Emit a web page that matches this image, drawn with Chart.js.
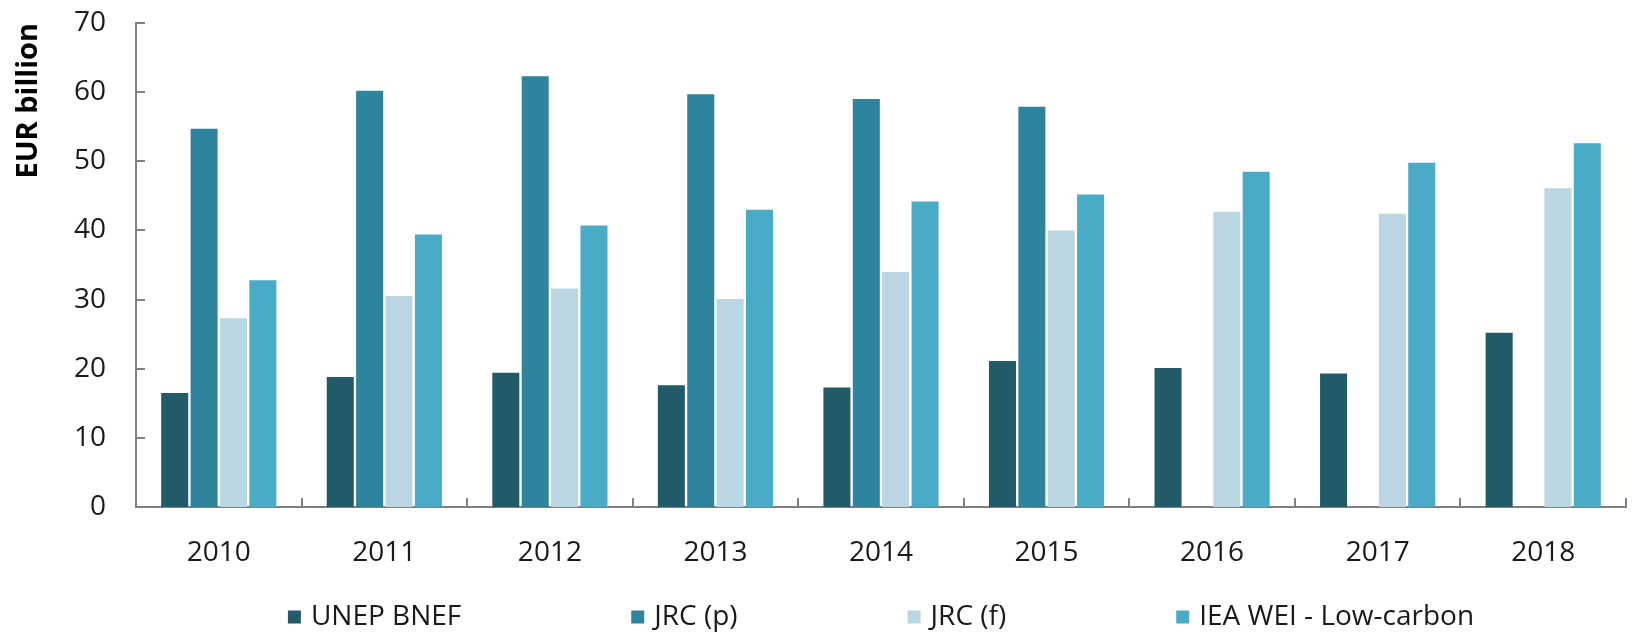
<!DOCTYPE html>
<html>
<head>
<meta charset="utf-8">
<script src="https://cdn.jsdelivr.net/npm/chart.js@4.4.1/dist/chart.umd.min.js"></script>
<style>
html,body{margin:0;padding:0;background:#ffffff;}
#wrap{width:1637px;height:637px;position:relative;}
</style>
</head>
<body>
<div id="wrap"><canvas id="c"></canvas></div>
<script>
// ---- data ----
const categories = ['2010','2011','2012','2013','2014','2015','2016','2017','2018'];
const unepBnef = [16.5, 18.8, 19.4, 17.6, 17.3, 21.1, 20.1, 19.3, 25.2];
const jrcP     = [54.7, 60.2, 62.3, 59.7, 59.0, 57.9, null, null, null];
const jrcF     = [27.3, 30.5, 31.6, 30.1, 34.0, 40.0, 42.7, 42.4, 46.1];
const ieaWei   = [32.8, 39.4, 40.7, 43.0, 44.2, 45.2, 48.5, 49.8, 52.6];
const seriesNames = ['UNEP BNEF', 'JRC (p)', 'JRC (f)', 'IEA WEI - Low-carbon'];
const seriesColors = ['#215B69', '#2E849D', '#B9D6E2', '#4AABC6'];
const yMin = 0, yMax = 70, yStep = 10;
const yTitle = 'EUR billion';

const AXIS_COLOR = '#7f7f7f';
const TEXT_COLOR = '#1a1a1a';
const FONT = '"Open Sans", "Noto Sans", sans-serif';

const inwardTicks = {
  id: 'inwardTicks',
  afterDatasetsDraw(chart) {
    const {ctx, chartArea, scales} = chart;
    const x = scales.x, y = scales.y;
    ctx.save();
    ctx.strokeStyle = AXIS_COLOR;
    ctx.lineWidth = 2;
    y.ticks.forEach(t => {
      const py = Math.round(y.getPixelForValue(t.value));
      ctx.beginPath();
      ctx.moveTo(chartArea.left, py);
      ctx.lineTo(chartArea.left + 9, py);
      ctx.stroke();
    });
    for (let i = 0; i < categories.length; i++) {
      const px = Math.round(x.getPixelForValue(i + 0.5));
      ctx.beginPath();
      ctx.moveTo(px, chartArea.bottom);
      ctx.lineTo(px, chartArea.bottom - 9);
      ctx.stroke();
    }
    ctx.restore();
  }
};

const rowLegend = {
  id: 'rowLegend',
  afterDraw(chart) {
    const {ctx, chartArea} = chart;
    const box = 13, boxGap = 10, gap = 170;
    ctx.save();
    ctx.font = '28px ' + FONT;
    ctx.textBaseline = 'middle';
    ctx.textAlign = 'left';
    const widths = seriesNames.map(n => box + boxGap + ctx.measureText(n).width);
    const total = widths.reduce((a, b) => a + b, 0) + gap * (seriesNames.length - 1);
    let x = (chartArea.left + chartArea.right) / 2 - total / 2;
    const cy = chartArea.bottom + 110;
    seriesNames.forEach((n, i) => {
      ctx.fillStyle = seriesColors[i];
      ctx.fillRect(x, cy - box / 2, box, box);
      ctx.fillStyle = TEXT_COLOR;
      ctx.fillText(n, x + box + boxGap, cy);
      x += widths[i] + gap;
    });
    ctx.restore();
  }
};

const seriesData = [unepBnef, jrcP, jrcF, ieaWei];

new Chart(document.getElementById('c'), {
  type: 'bar',
  data: {
    labels: categories,
    datasets: seriesNames.map((name, i) => ({
      label: name,
      data: seriesData[i],
      backgroundColor: seriesColors[i],
      borderWidth: 0,
      categoryPercentage: 0.71,
      barPercentage: 0.92
    }))
  },
  options: {
    responsive: true,
    maintainAspectRatio: false,
    animation: false,
    layout: { padding: { left: 0, right: 11, top: 23, bottom: 60 } },
    plugins: {
      legend: { display: false },
      tooltip: { enabled: false }
    },
    scales: {
      x: {
        grid: { display: false, drawTicks: false },
        border: { display: true, color: AXIS_COLOR, width: 2 },
        ticks: { color: TEXT_COLOR, font: { family: FONT, size: 28 }, padding: 29, maxRotation: 0 },
        afterFit(scale) { scale.height = 70; }
      },
      y: {
        min: yMin, max: yMax,
        grid: { display: false, drawTicks: false },
        border: { display: true, color: AXIS_COLOR, width: 2 },
        ticks: { stepSize: yStep, color: TEXT_COLOR, font: { family: FONT, size: 28 }, padding: 30 },
        title: {
          display: true, text: yTitle, align: 'end', color: '#000',
          font: { family: FONT, size: 29, weight: 'bold' },
          padding: { top: 11, bottom: 0 }
        },
        afterFit(scale) {
          scale.width = 136;
          scale.paddingTop = 0;
          scale.paddingBottom = 0;
        }
      }
    }
  },
  plugins: [inwardTicks, rowLegend]
});
</script>
</body>
</html>
